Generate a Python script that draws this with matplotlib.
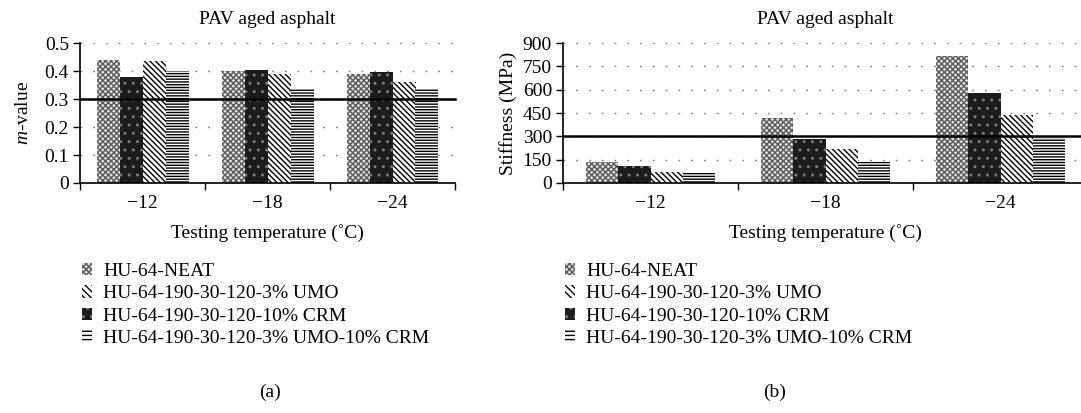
import matplotlib
matplotlib.use("Agg")
import matplotlib.pyplot as plt
import numpy as np
from matplotlib.patches import Patch

plt.rcParams["font.family"] = ["Liberation Serif", "DejaVu Serif"]
plt.rcParams["mathtext.fontset"] = "custom"
plt.rcParams["mathtext.it"] = "Liberation Serif:italic"
plt.rcParams["mathtext.rm"] = "Liberation Serif"
plt.rcParams["hatch.linewidth"] = 1.0

temperatures = ["\u221212", "\u221218", "\u221224"]

# bar order in the plot: NEAT, CRM, UMO, UMO-CRM
m_neat = [0.44, 0.40, 0.39]
m_crm = [0.38, 0.405, 0.395]
m_umo = [0.435, 0.39, 0.36]
m_umo_crm = [0.40, 0.335, 0.335]

s_neat = [135, 420, 815]
s_crm = [110, 280, 580]
s_umo = [70, 220, 440]
s_umo_crm = [65, 135, 290]

legend_labels = [
    "HU-64-NEAT",
    "HU-64-190-30-120-3% UMO",
    "HU-64-190-30-120-10% CRM",
    "HU-64-190-30-120-3% UMO-10% CRM",
]

FS = 14
W, H = 1081, 413

styles = {
    "neat": dict(face="#e0e0e0", hatch="xxxxxx", hcol="#5a5a5a"),
    "crm": dict(face="#1c1c1c", hatch="..", hcol="#7a7a7a"),
    "umo": dict(face="white", hatch="\\\\\\\\\\\\", hcol="black"),
    "umo_crm": dict(face="white", hatch="------", hcol="black"),
}


def draw_bars(ax, x, vals, offset, width, st):
    ax.bar(x + offset, vals, width, color=st["face"], linewidth=0, zorder=2)
    ax.bar(x + offset, vals, width, fill=False, hatch=st["hatch"],
           edgecolor=st["hcol"], linewidth=0, zorder=2)


def panel(rect, series, ylim, yticks, ytl, ylabel, ref, tag, tag_x, ypad):
    ax = fig.add_axes(rect)
    x = np.arange(len(temperatures))
    bw = 0.184
    keys = ["neat", "crm", "umo", "umo_crm"]
    for i, (k, vals) in enumerate(zip(keys, series)):
        draw_bars(ax, x, vals, (i - 1.5) * bw, bw, styles[k])
    ax.axhline(ref, color="black", lw=1.8, zorder=3, clip_on=False)
    ax.set_xlim(-0.5, len(temperatures) - 0.5)
    ax.set_ylim(*ylim)
    ax.set_yticks(yticks)
    ax.set_yticklabels(ytl, fontsize=FS)
    ax.set_xticks(np.arange(len(temperatures) + 1) - 0.5)
    ax.set_xticklabels([])
    ax.set_xticks(x, minor=True)
    ax.set_xticklabels(temperatures, minor=True, fontsize=FS)
    ax.tick_params(axis="x", which="minor", length=0, pad=9)
    ax.tick_params(axis="x", which="major", length=5, width=1, direction="out")
    ax.tick_params(axis="y", length=5, width=1, direction="out", pad=3)
    ax.yaxis.grid(True, linestyle=(0, (1.2, 8)), color="#777777", lw=1.0)
    ax.set_axisbelow(True)
    for s in ["top", "right"]:
        ax.spines[s].set_visible(False)
    for s in ["left", "bottom"]:
        ax.spines[s].set_linewidth(1.2)
    ax.set_title("PAV aged asphalt", fontsize=FS, pad=14)
    ax.set_xlabel("Testing temperature (\u02daC)", fontsize=FS, labelpad=8)
    ax.set_ylabel(ylabel, fontsize=FS, labelpad=ypad)

    handles = [
        Patch(facecolor=styles["neat"]["face"], hatch="xxxxxx", edgecolor="#5a5a5a", lw=0),
        Patch(facecolor="white", hatch="\\\\\\\\\\", edgecolor="black", lw=0),
        Patch(facecolor="#1c1c1c", hatch="..", edgecolor="#7a7a7a", lw=0),
        Patch(facecolor="white", hatch="----", edgecolor="black", lw=0),
    ]
    fig.legend(handles, legend_labels, loc="upper left",
               bbox_to_anchor=(rect[0] - 6 / W, 1 - 255 / H), frameon=False,
               fontsize=FS, handlelength=0.5, handleheight=0.6,
               handletextpad=0.6, labelspacing=0.28, borderaxespad=0)
    fig.text(tag_x / W, 1 - 392 / H, tag, ha="center", va="center", fontsize=FS)
    return ax


fig = plt.figure(figsize=(W / 100, H / 100), dpi=100)

panel([80 / W, 1 - 183 / H, 375 / W, 140 / H],
      [m_neat, m_crm, m_umo, m_umo_crm], (0, 0.5),
      [0, 0.1, 0.2, 0.3, 0.4, 0.5], ["0", "0.1", "0.2", "0.3", "0.4", "0.5"],
      "$m$-value", 0.3, "(a)", 270, 9)

panel([563 / W, 1 - 183 / H, 525 / W, 140 / H],
      [s_neat, s_crm, s_umo, s_umo_crm], (0, 900),
      [0, 150, 300, 450, 600, 750, 900],
      ["0", "150", "300", "450", "600", "750", "900"],
      "Stiffness (MPa)", 300, "(b)", 775, 4)

fig.savefig("out.png", dpi=100)
